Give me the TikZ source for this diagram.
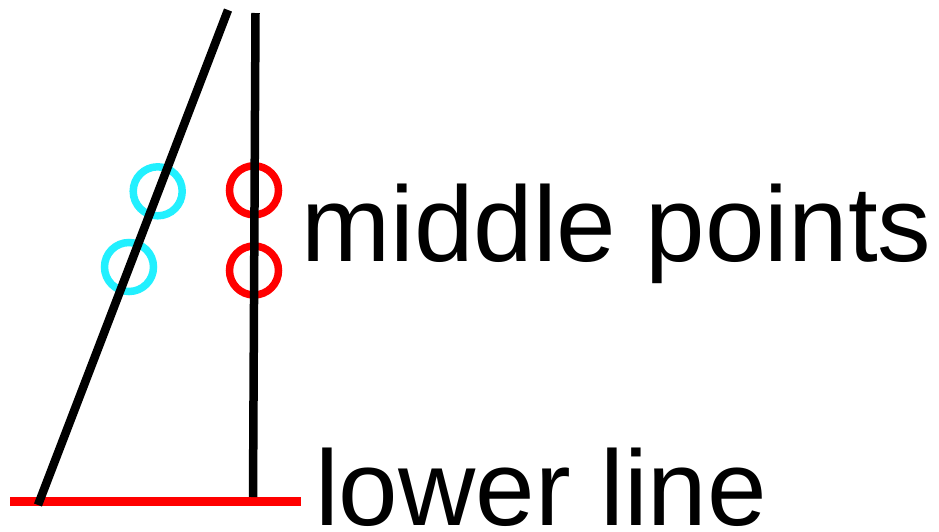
\documentclass[tikz,border=0pt]{standalone}
\usepackage{fontspec}
\setmainfont{Liberation Sans}
\usetikzlibrary{positioning}
\usepackage{xcolor}
\definecolor{markred}{HTML}{FF0000}
\definecolor{markcyan}{HTML}{22F0FF}
\tikzset{
  blackline/.style={draw=black, line width=8.5pt},
  baseline/.style={draw=markred, line width=9pt},
  cyanring/.style={circle, draw=markcyan, line width=7.5pt,
                   minimum size=49pt, inner sep=0pt},
  redring/.style={circle, draw=markred, line width=7.5pt,
                  minimum size=49pt, inner sep=0pt},
  biglabel/.style={anchor=base west, inner sep=0pt,
                   font=\fontsize{107}{120}\selectfont},
}

\begin{document}
\begin{tikzpicture}[x=1pt, y=-1pt]
  \useasboundingbox (0,0) rectangle (939,531);

  % end points of the two lines and of the lower line
  \coordinate (slanttop) at (228,10);
  \coordinate (slantbot) at (38,505);
  \coordinate (verttop)  at (255.5,13);
  \coordinate (vertbot)  at (253,497);
  \coordinate (lowleft)  at (10,501.5);
  \coordinate (lowright) at (301,501.5);

  % lower line first, lines are drawn over it
  \draw[baseline] (lowleft) -- (lowright);

  % middle points on both lines
  \node[cyanring] (c1) at (157.7,191.3) {};
  \node[cyanring] (c2) at (129,267) {};
  \node[redring]  (r1) at (254,190.3) {};
  \node[redring]  (r2) at (254,270.5) {};

  % the two black lines
  \draw[blackline] (slantbot) -- (slanttop);
  \draw[blackline] (vertbot) -- (verttop);

  % labels
  \node[biglabel] (midlabel) at (301,261) {middle points};
  \node[biglabel] (lowlabel) at (315,525) {lower line};
\end{tikzpicture}
\end{document}
